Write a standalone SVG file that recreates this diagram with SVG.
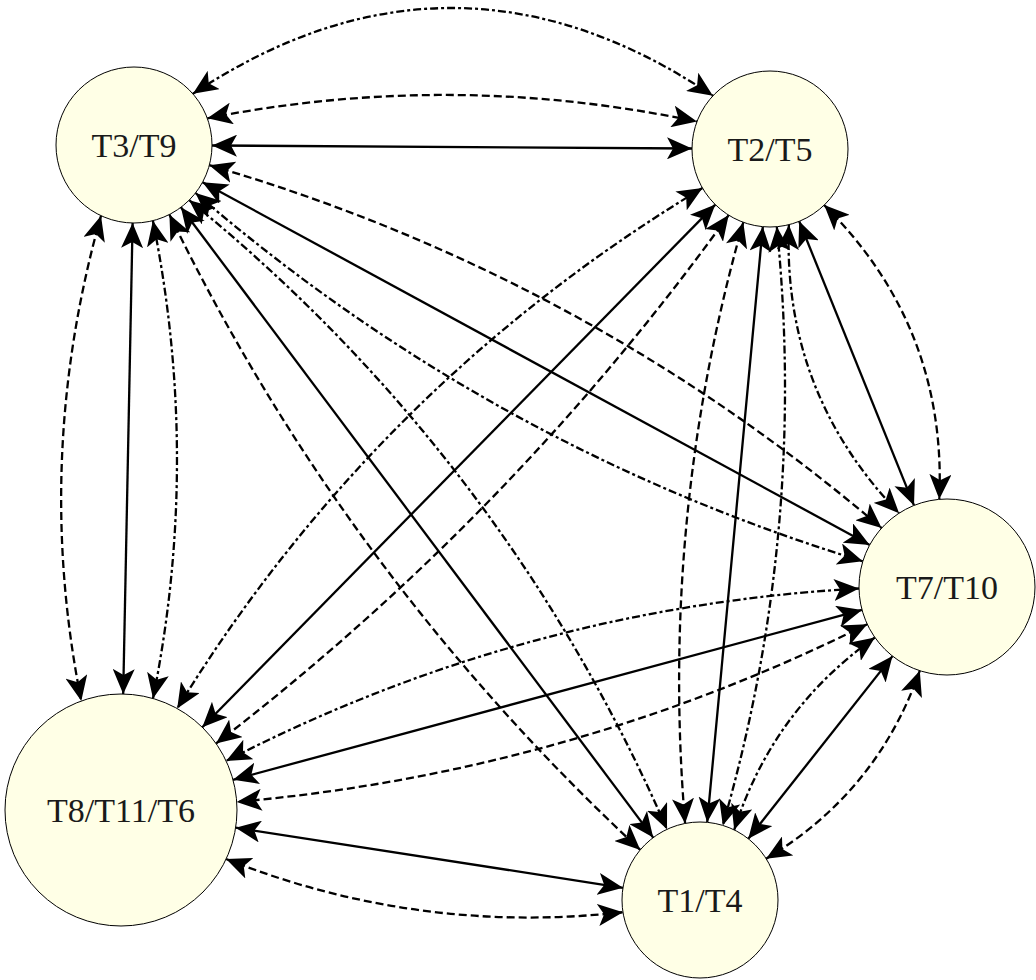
<svg xmlns="http://www.w3.org/2000/svg" width="1036" height="980" viewBox="0 0 1036 980">
<defs>
<marker id="ah" viewBox="-25 -11 25 22" refX="0" refY="0" markerWidth="25" markerHeight="22" markerUnits="userSpaceOnUse" orient="auto-start-reverse">
<path d="M0,0 L-25,-11 L-19,0 L-25,11 z" fill="#000"/>
</marker>
<style>
.e{fill:none;stroke:#000;stroke-width:2.3;marker-start:url(#ah);marker-end:url(#ah)}
.d{stroke-dasharray:8 4}
.dd{stroke-dasharray:8 3 3 3}
.n circle{fill:#ffffe6;stroke:#000;stroke-width:1}
.n text{font-family:"Liberation Serif","Times New Roman",serif;font-size:34px;fill:#1a1a1a;text-anchor:middle}
</style>
</defs>
<rect width="1036" height="980" fill="#fff"/>
<g id="connectors">
<path class="e" d="M212,145.5 L692,148.5"/>
<path class="e d" d="M207.3,118.3 Q452,70 697,121.6"/>
<path class="e dd" d="M192.9,93.8 Q453,-78.8 712.9,95.8"/>
<path class="e" d="M132.6,223 L123.2,694"/>
<path class="e d" d="M101,215.7 Q32.8,458 81.3,701"/>
<path class="e dd" d="M152.9,220.7 Q201,460 153,698.5"/>
<path class="e" d="M202.5,182.2 L869.7,545"/>
<path class="e d" d="M209.3,165.2 Q584.5,274.5 881.6,528.1"/>
<path class="e dd" d="M195.5,193 Q490,447 862.8,561.3"/>
<path class="e" d="M180.9,207.3 L653.2,837.6"/>
<path class="e d" d="M169.4,214.5 Q345.4,576.2 640.3,849.9"/>
<path class="e dd" d="M189.2,200.2 Q504.5,456.7 667,829.3"/>
<path class="e" d="M715.3,204.6 L202.3,727.3"/>
<path class="e dd" d="M702.5,188 Q376.6,384.4 177.2,708.5"/>
<path class="e d" d="M728.7,215.1 Q511.2,516.9 216,743.5"/>
<path class="e" d="M762.8,226.7 L707.2,822.3"/>
<path class="e d" d="M743.3,222.3 Q659.5,517.6 685.1,823.4"/>
<path class="e dd" d="M776.8,226.7 Q807.6,531.2 722.8,825.4"/>
<path class="e" d="M799.2,221.3 L914,505.4"/>
<path class="e dd" d="M788.9,224.7 Q782.3,392.6 899.1,513.2"/>
<path class="e d" d="M824.2,205.1 Q947,326.7 939.3,499.3"/>
<path class="e" d="M862,609.9 L233,779.8"/>
<path class="e dd" d="M859,588.5 Q524.2,607.3 226.1,761"/>
<path class="e d" d="M867.2,624.2 Q568.8,772.7 236.7,801.9"/>
<path class="e" d="M892.5,656.1 L748.3,838.8"/>
<path class="e dd" d="M874.9,637.5 Q772.3,710.1 734.2,829.9"/>
<path class="e d" d="M919.8,670.7 Q877.1,792.6 766.1,858.7"/>
<path class="e" d="M235.6,827.7 L623,887.8"/>
<path class="e d" d="M226.1,859 Q418,935.2 623,912.2"/>
</g>
<g id="n_T3T9" class="n"><circle cx="134" cy="145" r="78"/><text x="134" y="157">T3/T9</text></g>
<g id="n_T2T5" class="n"><circle cx="770" cy="149" r="78"/><text x="770" y="161">T2/T5</text></g>
<g id="n_T7T10" class="n"><circle cx="947" cy="587" r="88"/><text x="947" y="599">T7/T10</text></g>
<g id="n_T8T11T6" class="n"><circle cx="121" cy="810" r="116"/><text x="121" y="822">T8/T11/T6</text></g>
<g id="n_T1T4" class="n"><circle cx="700" cy="900" r="78"/><text x="700" y="912">T1/T4</text></g>
</svg>
